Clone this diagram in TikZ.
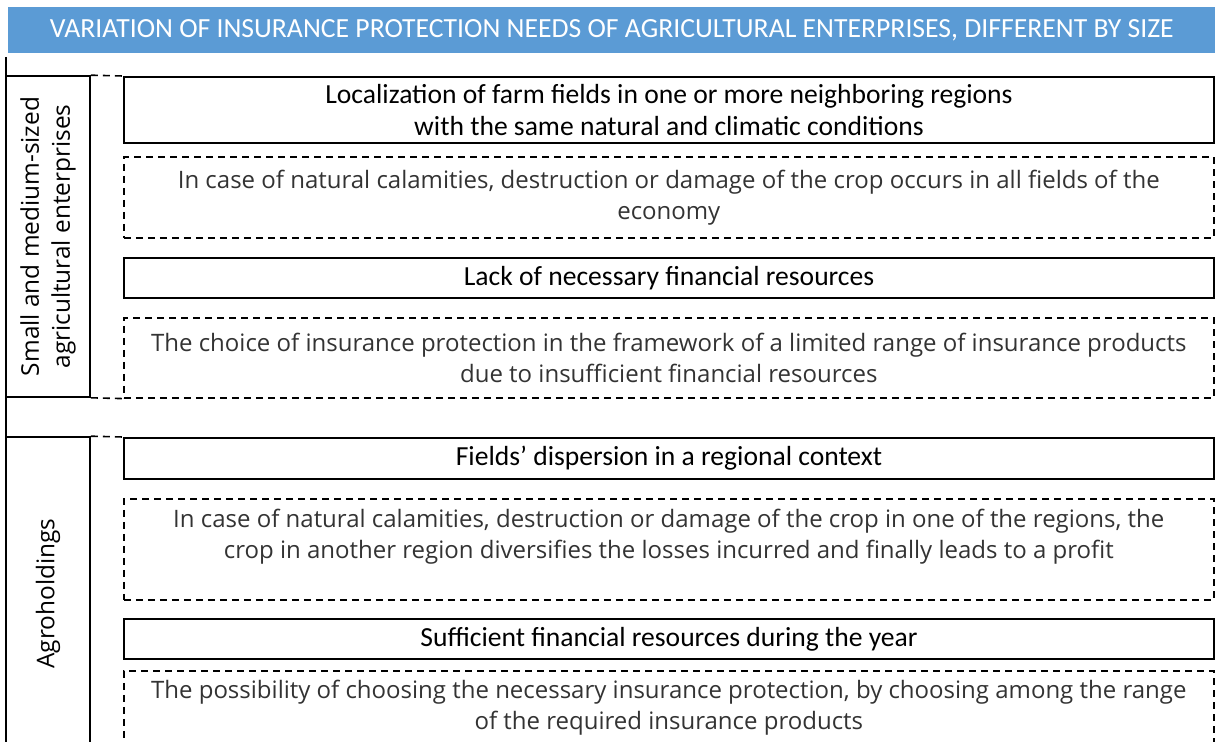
\documentclass[tikz,border=0pt]{standalone}
\usepackage{fontspec}
\setmainfont{Carlito}
\newfontfamily\bodyfont{Open Sans}
\usetikzlibrary{positioning}
\definecolor{titleblue}{HTML}{5B9BD5}
\definecolor{bodygray}{HTML}{333333}

\begin{document}
\begin{tikzpicture}[x=0.5pt,y=-0.5pt,
  head/.style={draw,line width=1pt,anchor=north west,minimum width=545pt,inner sep=0pt,align=center,font=\fontsize{13.8}{16}\selectfont},
  note/.style={draw,line width=0.8pt,dash pattern=on 3.5pt off 2.5pt,anchor=north west,minimum width=545pt,inner sep=0pt,align=center,text=bodygray,font=\bodyfont\fontsize{12}{15.5}\selectfont},
  group/.style={draw,line width=0.8pt,rotate=90,inner sep=0pt,align=center,minimum height=42pt,font=\bodyfont\fontsize{12.2}{15.5}\selectfont},
  link/.style={line width=0.8pt,dash pattern=on 3.5pt off 2.5pt}]
      \useasboundingbox (0,0) rectangle (1215,742);

      \node[fill=titleblue,minimum width=603.5pt,minimum height=23pt,anchor=north west,inner sep=0pt,text=white,font=\fontsize{13.85}{16}\selectfont] (title) at (8,7) {VARIATION OF INSURANCE PROTECTION NEEDS OF AGRICULTURAL ENTERPRISES, DIFFERENT BY SIZE};

      \coordinate (frametop) at (6,57);
      \coordinate (framebot) at (6,742);
      \draw[line width=1pt] (frametop) -- (framebot);

      % small and medium-sized
      \node[group,minimum width=160.5pt] (smgrp) at (48,236.5) {Small and medium-sized\\agricultural enterprises};
      \node[head,minimum height=33pt] (loc) at (123,76) {
        Localization of farm fields in one or more neighboring regions\\
        with the same natural and climatic conditions
      };
      \node[note,minimum height=40.5pt] (calam) at (123,156) {
        In case of natural calamities, destruction or damage of the crop occurs in all fields of the\\
        economy
      };
      \node[head,minimum height=20pt] (lack) at (123,257) {Lack of necessary financial resources};
      \node[note,minimum height=40pt] (choice) at (123,317) {
        The choice of insurance protection in the framework of a limited range of insurance products\\
        due to insufficient financial resources
      };
      \draw[link] (smgrp.south east) -- (loc.north west);
      \draw[link] (smgrp.south west) -- (choice.south west);

      % agroholdings
      \node[group,minimum width=156.5pt] (agrgrp) at (48,593.5) {Agroholdings};
      \node[head,minimum height=20.5pt] (disp) at (123,437) {Fields’ dispersion in a regional context};
      \node[note,minimum height=50.5pt] (diverse) at (123,498) {
        In case of natural calamities, destruction or damage of the crop in one of the regions, the\\
        crop in another region diversifies the losses incurred and finally leads to a profit\\
        ~
      };
      \node[head,minimum height=20pt] (suff) at (123,618) {Sufficient financial resources during the year};
      \node[note,minimum height=50pt] (possib) at (123,670) {
        The possibility of choosing the necessary insurance protection, by choosing among the range\\
        of the required insurance products\\
        ~
      };
      \draw[link] (agrgrp.south east) -- (disp.north west);
    \end{tikzpicture}
\end{document}
